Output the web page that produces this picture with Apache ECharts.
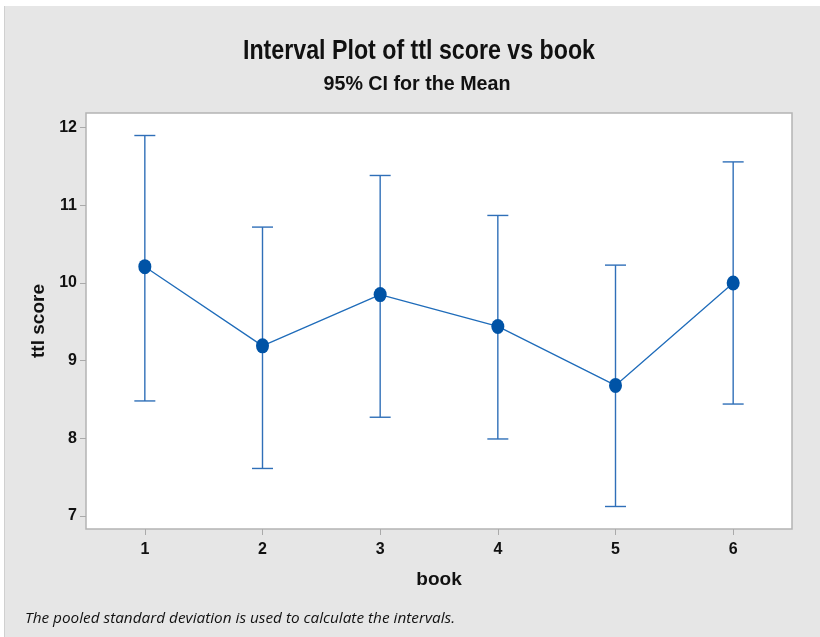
<!DOCTYPE html>
<html>
<head>
<meta charset="utf-8">
<script src="https://cdn.jsdelivr.net/npm/echarts@6/dist/echarts.min.js"></script>
<style>
html,body{margin:0;padding:0;background:#fff;}
#c{width:820px;height:637px;}
</style>
</head>
<body>
<div id="c"></div>
<script>
const categories = ['1','2','3','4','5','6'];
const means = [10.21, 9.19, 9.85, 9.44, 8.68, 10.00];
const lowers = [8.48, 7.61, 8.27, 7.99, 7.12, 8.44];
const uppers = [11.90, 10.72, 11.385, 10.87, 10.23, 11.56];
const yTicks = [7, 8, 9, 10, 11, 12];
const titleText = 'Interval Plot of ttl score vs book';
const subtitleText = '95% CI for the Mean';
const footText = 'The pooled standard deviation is used to calculate the intervals.';

const chart = echarts.init(document.getElementById('c'), null, {renderer: 'canvas'});
const sansB = '"Liberation Sans", Arial, sans-serif';

// condensed rendering of titles: scale horizontally to reference width
const mctx = document.createElement('canvas').getContext('2d');
function fitScale(text, font, target) {
  mctx.font = font;
  return target / mctx.measureText(text).width;
}
const titleFont = 'bold 27px "Liberation Sans", Arial, sans-serif';
const subFont = 'bold 20px "Liberation Sans", Arial, sans-serif';
const footFont = 'italic 14px "Open Sans", sans-serif';
const tS = fitScale(titleText, titleFont, 352);
const sS = fitScale(subtitleText, subFont, 187);
const fS = fitScale(footText, footFont, 430);

const barData = categories.map((c, i) => [i, lowers[i], uppers[i]]);

chart.setOption({
  backgroundColor: '#e6e6e6',
  animation: false,
  graphic: [
    {type: 'rect', shape: {x: 0, y: 0, width: 820, height: 6}, style: {fill: '#ffffff'}, z: 100},
    {type: 'rect', shape: {x: 0, y: 0, width: 4, height: 637}, style: {fill: '#ffffff'}, z: 100},
    {type: 'rect', shape: {x: 4, y: 6, width: 1, height: 631}, style: {fill: '#d0d0d0'}, z: 100},
    {type: 'text', x: 419, y: 52, scaleX: tS, style: {text: titleText, font: titleFont, fill: '#111', align: 'center', verticalAlign: 'middle'}},
    {type: 'text', x: 417, y: 84, scaleX: sS, style: {text: subtitleText, font: subFont, fill: '#111', align: 'center', verticalAlign: 'middle'}},
    {type: 'text', x: 25, y: 619, scaleX: fS, style: {text: footText, font: footFont, fill: '#111', align: 'left', verticalAlign: 'middle'}}
  ],
  grid: {left: 86, top: 113, right: 28, bottom: 108, show: true, backgroundColor: '#ffffff', borderColor: '#b4b4b4', borderWidth: 1.5},
  xAxis: {
    type: 'category', data: categories, boundaryGap: true,
    name: 'book', nameLocation: 'middle', nameGap: 41,
    nameTextStyle: {fontFamily: sansB, fontWeight: 'bold', fontSize: 19, color: '#111'},
    axisLine: {show: false},
    axisTick: {show: true, alignWithLabel: true, length: 6, lineStyle: {color: '#aaaaaa'}},
    axisLabel: {fontFamily: sansB, fontWeight: 'bold', fontSize: 16, color: '#111', margin: 13},
    splitLine: {show: false}
  },
  yAxis: {
    type: 'value', min: 6.83, max: 12.19,
    name: 'ttl score', nameLocation: 'middle', nameGap: 36, nameRotate: 90,
    nameTextStyle: {fontFamily: sansB, fontWeight: 'bold', fontSize: 19, color: '#111'},
    axisLine: {show: false},
    axisTick: {show: true, length: 6, customValues: yTicks, lineStyle: {color: '#aaaaaa'}},
    axisLabel: {fontFamily: sansB, fontWeight: 'bold', fontSize: 16, color: '#111', margin: 9, customValues: yTicks},
    splitLine: {show: false}
  },
  series: [
    {
      type: 'custom',
      data: barData,
      z: 2,
      renderItem: function (params, api) {
        const x = api.value(0);
        const lo = api.coord([x, api.value(1)]);
        const hi = api.coord([x, api.value(2)]);
        const hw = 10.5;
        const st = {stroke: '#2f6fb8', lineWidth: 1.4};
        return {type: 'group', children: [
          {type: 'line', shape: {x1: lo[0], y1: lo[1], x2: hi[0], y2: hi[1]}, style: st},
          {type: 'line', shape: {x1: hi[0] - hw, y1: hi[1], x2: hi[0] + hw, y2: hi[1]}, style: st},
          {type: 'line', shape: {x1: lo[0] - hw, y1: lo[1], x2: lo[0] + hw, y2: lo[1]}, style: st}
        ]};
      }
    },
    {
      type: 'line',
      data: means,
      z: 3,
      symbol: 'circle',
      symbolSize: [13, 15],
      lineStyle: {color: '#1f6cba', width: 1.3},
      itemStyle: {color: '#0053a6'}
    }
  ]
});
</script>
</body>
</html>
